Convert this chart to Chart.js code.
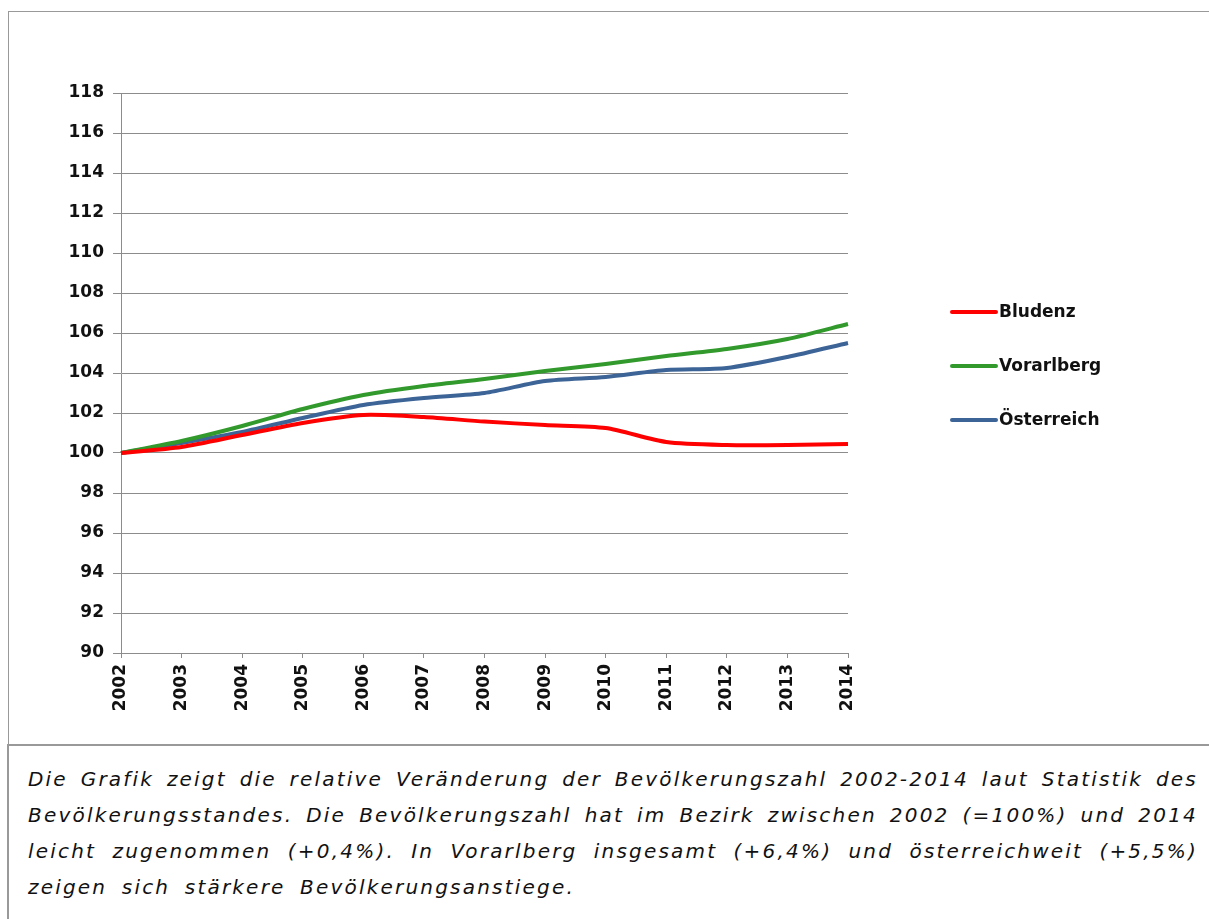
<!DOCTYPE html>
<html>
<head>
<meta charset="utf-8">
<script src="https://cdn.jsdelivr.net/npm/chart.js@4/dist/chart.umd.min.js"></script>
<style>
  body { margin: 0; background: #fff; width: 1209px; height: 919px; overflow: hidden; position: relative; }
  #chartBox { position: absolute; left: 8px; top: 11px; width: 1220px; height: 732px; border: 1px solid #999; }
  #caption { position: absolute; left: 7px; top: 744px; width: 1220px; height: 200px; border-top: 2px solid #999; border-left: 2px solid #999; }
  #caption .txt { position: absolute; left: 19px; top: 15px; width: 1170px; font-family: "DejaVu Sans", Verdana, sans-serif; font-style: italic; font-size: 20px; letter-spacing: 2.2px; line-height: 36px; color: #111; }
  #caption .zeile { white-space: nowrap; text-align: justify; text-align-last: justify; }
  #caption .zeile.letzte { text-align: left; text-align-last: left; word-spacing: 6px; }
  #c { position: absolute; left: 0; top: 0; }
</style>
</head>
<body>
<div id="chartBox"></div>
<div id="caption"><div class="txt">
  <div class="zeile">Die Grafik zeigt die relative Veränderung der Bevölkerungszahl 2002-2014 laut Statistik des</div>
  <div class="zeile">Bevölkerungsstandes. Die Bevölkerungszahl hat im Bezirk zwischen 2002 (=100%) und 2014</div>
  <div class="zeile">leicht zugenommen (+0,4%). In Vorarlberg insgesamt (+6,4%) und österreichweit (+5,5%)</div>
  <div class="zeile letzte">zeigen sich stärkere Bevölkerungsanstiege.</div>
</div></div>
<canvas id="c" width="1209" height="744"></canvas>
<script>
// Jahre + Indexwerte (2002 = 100)
let jahre = ["2002", "2003", "2004", "2005", "2006", "2007", "2008", "2009", "2010", "2011", "2012", "2013", "2014"];
let bludenz = [100, 100.3, 100.9, 101.5, 101.9, 101.8, 101.57, 101.4, 101.25, 100.55, 100.4, 100.4, 100.45];
let vorarlberg = [100, 100.6, 101.35, 102.2, 102.9, 103.35, 103.7, 104.1, 104.45, 104.85, 105.2, 105.7, 106.45];
let oesterreich = [100, 100.5, 101.05, 101.75, 102.4, 102.75, 103.0, 103.6, 103.8, 104.15, 104.25, 104.8, 105.5];
let serien = ["Bludenz", "Vorarlberg", "Österreich"];
let farben = ["#ff0000", "#329a2d", "#3d6497"];

let fontBold = { family: "'DejaVu Sans', Verdana, sans-serif", size: 17, weight: "bold" };
let grau = "#8c8c8c";

// breitere Schrift wie im Original (Zeichenabstand)
const abstand = {
	id: "abstand",
	beforeInit(chart) {
		chart.ctx.letterSpacing = "1px";
	}
};

// eigene Legende rechts neben dem Diagramm
const legendeRechts = {
	id: "legendeRechts",
	afterDraw(chart) {
		let ctx = chart.ctx;
		ctx.save();
		chart.data.datasets.forEach(function (ds, i) {
			let y = 312 + i * 54;
			ctx.strokeStyle = ds.borderColor;
			ctx.lineWidth = 4;
			ctx.lineCap = "round";
			ctx.beginPath();
			ctx.moveTo(952, y);
			ctx.lineTo(996, y);
			ctx.stroke();
			ctx.fillStyle = "#111";
			ctx.font = "bold 17px 'DejaVu Sans', Verdana, sans-serif";
			ctx.textBaseline = "middle";
			ctx.textAlign = "left";
			ctx.fillText(ds.label, 999, y + 1);
		});
		ctx.restore();
	}
};

const werte = [bludenz, vorarlberg, oesterreich];

new Chart(document.getElementById("c"), {
	type: "line",
	data: {
		labels: jahre,
		datasets: serien.map(function (name, i) {
			return {
				label: name,
				data: werte[i],
				borderColor: farben[i],
				backgroundColor: farben[i],
				borderWidth: 4,
				pointRadius: 0,
				tension: 0.25,
				fill: false
			};
		})
	},
	options: {
		responsive: false,
		animation: false,
		layout: { padding: { left: 0, right: 361, top: 93, bottom: 0 } },
		plugins: { legend: { display: false }, tooltip: { enabled: false } },
		scales: {
			x: {
				offset: false,
				afterFit(scale) { scale.height = 91; },
				border: { color: grau, width: 1 },
				grid: { drawOnChartArea: false, drawTicks: true, tickLength: 5, color: grau },
				ticks: { color: "#111", font: fontBold, minRotation: 90, maxRotation: 90, padding: 6, autoSkip: false }
			},
			y: {
				min: 90,
				max: 118,
				afterFit(scale) { scale.width = 121; },
				border: { color: grau, width: 1 },
				grid: { color: grau, lineWidth: 1, tickLength: 8 },
				ticks: { stepSize: 2, color: "#111", font: fontBold, padding: 9 }
			}
		}
	},
	plugins: [abstand, legendeRechts]
});
</script>
</body>
</html>
